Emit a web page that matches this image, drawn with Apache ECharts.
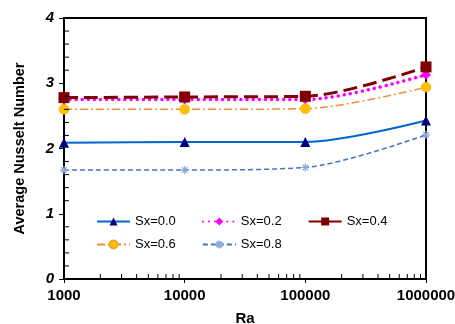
<!DOCTYPE html>
<html><head><meta charset="utf-8">
<script src="https://cdn.jsdelivr.net/npm/echarts@6/dist/echarts.min.js"></script>
<style>html,body{margin:0;padding:0;background:#fff}#c{width:455px;height:324px}</style>
</head><body><div id="c"></div>
<script>
var ra = [1000, 10000, 100000, 1000000];
var sx00 = [2.09, 2.10, 2.10, 2.43];
var sx02 = [2.75, 2.75, 2.75, 3.13];
var sx04 = [2.78, 2.79, 2.80, 3.25];
var sx06 = [2.60, 2.60, 2.61, 2.94];
var sx08 = [1.67, 1.67, 1.71, 2.21];
var names = ['Sx=0.0', 'Sx=0.2', 'Sx=0.4', 'Sx=0.6', 'Sx=0.8'];
var yTicks = [0, 1, 2, 3, 4];

var minorX = [];
for (var d = 0; d < ra.length - 1; d++) {
  for (var k = 2; k <= 9; k++) minorX.push([ra[d] * k, 0]);
}
var minorY = [];
for (var t = 0; t < yTicks.length - 1; t++) {
  for (var m = 1; m <= 4; m++) minorY.push([ra[0], yTicks[t] + m * 0.2]);
}

function pairs(vals) { return ra.map(function (r, i) { return [r, vals[i]]; }); }

var font = 'Arial, "Liberation Sans", sans-serif';
var asterisk = 'path://M0,5L10,5M5,0L5,10M1.5,1.5L8.5,8.5M8.5,1.5L1.5,8.5';
var sm = 0.3;

var chart = echarts.init(document.getElementById('c'), null, {renderer: 'canvas'});
chart.setOption({
  animation: false,
  grid: {left: 64, right: 29, top: 18, bottom: 45, outerBoundsMode: 'none', containLabel: false,
    show: true, borderColor: '#000', borderWidth: 2, backgroundColor: 'transparent'},
  legend: [{
    data: names.slice(0, 3), left: 91, top: 210, orient: 'horizontal', itemGap: 26,
    itemWidth: 33, itemHeight: 10, textStyle: {fontFamily: font, fontSize: 13, color: '#000'}
  }, {
    data: names.slice(3), left: 91, top: 233, orient: 'horizontal', itemGap: 26,
    itemWidth: 33, itemHeight: 10, textStyle: {fontFamily: font, fontSize: 13, color: '#000'}
  }],
  xAxis: {
    type: 'log', logBase: 10, min: ra[0], max: ra[ra.length - 1],
    name: 'Ra', nameLocation: 'middle', nameGap: 32,
    nameTextStyle: {fontFamily: font, fontSize: 15, fontWeight: 'bold', color: '#000'},
    axisLine: {show: true, lineStyle: {color: '#000', width: 2}},
    axisTick: {show: true, length: 4, lineStyle: {color: '#000'}},
    axisLabel: {fontFamily: font, fontSize: 15, fontWeight: 'bold', color: '#000', margin: 9,
      formatter: function (v) { return String(Math.round(v)); }},
    splitLine: {show: false}
  },
  yAxis: {
    type: 'value', min: yTicks[0], max: yTicks[yTicks.length - 1], interval: 1,
    name: 'Average Nusselt Number', nameLocation: 'middle', nameGap: 37, nameRotate: 90,
    nameTextStyle: {fontFamily: font, fontSize: 14.5, fontWeight: 'bold', color: '#000'},
    axisLine: {show: true, lineStyle: {color: '#000', width: 2}},
    axisTick: {show: true, length: 5, lineStyle: {color: '#000'}},
    axisLabel: {fontFamily: font, fontSize: 15, fontWeight: 'bold', fontStyle: 'italic', color: '#000', margin: 10},
    splitLine: {show: false}
  },
  series: [
    {name: names[0], type: 'line', data: pairs(sx00), smooth: sm, symbol: 'triangle', symbolSize: 10,
      lineStyle: {color: '#0066CC', width: 2, type: 'solid'}, itemStyle: {color: '#000080'}},
    {name: names[1], type: 'line', data: pairs(sx02), smooth: sm, symbol: 'diamond', symbolSize: 10,
      lineStyle: {color: '#FF00FF', width: 3.5, type: [0.1, 6], cap: 'round'}, itemStyle: {color: '#FF00FF'}},
    {name: names[2], type: 'line', data: pairs(sx04), smooth: sm, symbol: 'rect', symbolSize: 11,
      lineStyle: {color: '#800000', width: 3, type: [14, 6]}, itemStyle: {color: '#800000'}},
    {name: names[3], type: 'line', data: pairs(sx06), smooth: sm, symbol: 'circle', symbolSize: 10,
      lineStyle: {color: '#F28C38', width: 1.5, type: [8, 3, 2, 3]}, itemStyle: {color: '#FFC000', borderColor: '#F5A623', borderWidth: 0.5}},
    {name: names[4], type: 'line', data: pairs(sx08), smooth: sm, symbol: asterisk, symbolSize: 8,
      lineStyle: {color: '#4472C4', width: 1.5, type: [5, 3]}, itemStyle: {color: 'transparent', borderColor: '#8EAADB', borderWidth: 1.2}},
    {name: 'minorX', type: 'custom', data: minorX, silent: true, z: 10, clip: false,
      encode: {x: 0, y: 1},
      renderItem: function (params, api) {
        var p = api.coord([api.value(0), api.value(1)]);
        return {type: 'line', shape: {x1: p[0], y1: p[1], x2: p[0], y2: p[1] - 5}, style: {stroke: '#000', lineWidth: 1}};
      }},
    {name: 'minorY', type: 'custom', data: minorY, silent: true, z: 10, clip: false,
      encode: {x: 0, y: 1},
      renderItem: function (params, api) {
        var p = api.coord([api.value(0), api.value(1)]);
        return {type: 'line', shape: {x1: p[0], y1: p[1], x2: p[0] + 5, y2: p[1]}, style: {stroke: '#000', lineWidth: 1}};
      }}
  ]
});
</script></body></html>
